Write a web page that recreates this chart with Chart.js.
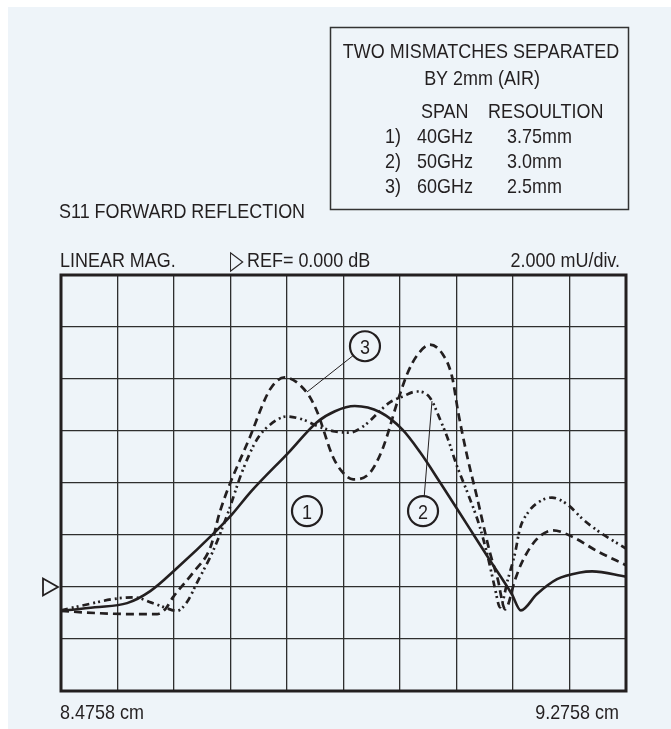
<!DOCTYPE html>
<html>
<head>
<meta charset="utf-8">
<script src="https://cdn.jsdelivr.net/npm/chart.js@4.4.1/dist/chart.umd.min.js"></script>
<style>
  html, body { margin: 0; padding: 0; background: #ffffff; overflow: hidden; }
  canvas { display: block; }
</style>
</head>
<body>
<canvas id="trace" width="671" height="729"></canvas>
<script>
// S11 forward reflection, linear magnitude (mU) against distance (cm)

// horizontal divisions (cm) and the two end labels
const xTicks = [8.4758, 8.5558, 8.6358, 8.7158, 8.7958, 8.8758, 8.9558, 9.0358, 9.1158, 9.1958, 9.2758];
const xTickLabels = ['8.4758 cm', '', '', '', '', '', '', '', '', '', '9.2758 cm'];
const yMin = 0, yMax = 16, yStep = 2;   // 2.000 mU/div, 8 divisions
const refLevel = 4;                     // reference position, mU

// trace 1: 40 GHz span  [cm, mU]
const trace1 = [
  [8.4758, 3.08], [8.5238, 3.22], [8.5694, 3.38], [8.6022, 3.84], [8.6390, 4.70],
  [8.6942, 6.12], [8.7182, 6.80], [8.7438, 7.64], [8.7990, 9.20], [8.8382, 10.34],
  [8.8638, 10.76], [8.8918, 10.96], [8.9278, 10.72], [8.9590, 10.06], [8.9838, 9.20],
  [9.0126, 8.02], [9.0518, 6.36], [9.0838, 5.00], [9.1142, 3.72], [9.1270, 3.10],
  [9.1494, 3.72], [9.1782, 4.30], [9.2110, 4.56], [9.2278, 4.60], [9.2758, 4.40]
];

// trace 2: 50 GHz span  [cm, mU]
const trace2 = [
  [8.4758, 3.10], [8.5078, 3.30], [8.5558, 3.56], [8.5798, 3.60], [8.6038, 3.40],
  [8.6238, 3.20], [8.6398, 3.08], [8.6542, 3.42], [8.6686, 4.18], [8.6910, 5.38],
  [8.7126, 6.88], [8.7318, 8.40], [8.7534, 9.68], [8.7718, 10.24], [8.7958, 10.56],
  [8.8182, 10.44], [8.8398, 10.18], [8.8638, 9.98], [8.8854, 9.94], [8.9038, 10.18],
  [8.9414, 11.10], [8.9590, 11.32], [8.9798, 11.52], [8.9982, 11.28], [9.0126, 10.44],
  [9.0238, 9.68], [9.0358, 8.70], [9.0518, 7.60], [9.0678, 6.40], [9.0798, 5.20],
  [9.0902, 3.96], [9.0974, 3.22], [9.1086, 4.30], [9.1190, 5.34], [9.1254, 6.22],
  [9.1374, 6.88], [9.1542, 7.30], [9.1710, 7.44], [9.1926, 7.18], [9.2150, 6.60],
  [9.2390, 6.10], [9.2758, 5.48]
];

// trace 3: 60 GHz span  [cm, mU]
const trace3 = [
  [8.4758, 3.08], [8.5238, 3.00], [8.5718, 2.96], [8.6118, 2.96], [8.6238, 3.16],
  [8.6342, 3.60], [8.6630, 4.56], [8.6878, 5.56], [8.7006, 6.88], [8.7438, 9.80],
  [8.7718, 11.60], [8.7926, 12.06], [8.8238, 11.48], [8.8382, 10.76], [8.8606, 9.02],
  [8.8750, 8.40], [8.8894, 8.14], [8.9134, 8.40], [8.9318, 9.36], [8.9526, 11.16],
  [8.9670, 12.26], [8.9798, 12.90], [8.9982, 13.32], [9.0166, 12.94], [9.0294, 12.10],
  [9.0382, 10.72], [9.0510, 9.02], [9.0646, 7.48], [9.0830, 5.34], [9.0942, 4.30],
  [9.1046, 3.14], [9.1190, 4.30], [9.1286, 4.96], [9.1494, 5.84], [9.1726, 6.18],
  [9.2006, 5.92], [9.2350, 5.38], [9.2758, 4.84]
];

// legend box rows
const boxTitle = ['TWO MISMATCHES SEPARATED', 'BY 2mm (AIR)'];
const boxHeader = ['SPAN', 'RESOULTION'];
const spanRows = [
  ['1)', '40GHz', '3.75mm'],
  ['2)', '50GHz', '3.0mm'],
  ['3)', '60GHz', '2.5mm']
];

// numbered callouts: circle centre and optional leader end, in data units
const callouts = [
  { label: '3', at: [8.9062, 13.26], to: [8.8241, 11.50] },
  { label: '2', at: [8.9884, 6.92], to: [9.0011, 11.15] },
  { label: '1', at: [8.8241, 6.92] }
];

const INK = '#231f20';
const GRID = '#2e2e2e';
const PANEL = '#eef4f9';

// condensed sans: use a narrow face when present, otherwise squeeze the regular one
function hasFont(name) {
  const c = document.createElement('canvas').getContext('2d');
  const probe = 'ABCDEFGHIJ mmmm 0123';
  c.font = '40px monospace';
  const a = c.measureText(probe).width;
  c.font = '40px "' + name + '", monospace';
  return c.measureText(probe).width !== a;
}
const NARROW = hasFont('Liberation Sans Narrow');
const FAMILY = NARROW ? '"Liberation Sans Narrow", sans-serif' : '"Liberation Sans", Arial, sans-serif';
const SQUEEZE = NARROW ? 1.04 : 0.855;

function text(ctx, s, x, y, align, size, squeeze) {
  ctx.save();
  ctx.translate(x, y);
  ctx.scale(squeeze || SQUEEZE, 1);
  ctx.font = (size || 21) + 'px ' + FAMILY;
  ctx.fillStyle = INK;
  ctx.textAlign = align || 'left';
  ctx.textBaseline = 'alphabetic';
  ctx.fillText(s, 0, 0);
  ctx.restore();
}

const panel = {
  id: 'panel',
  beforeDraw(chart) {
    const ctx = chart.ctx;
    ctx.save();
    ctx.fillStyle = '#ffffff';
    ctx.fillRect(0, 0, chart.width, chart.height);
    ctx.fillStyle = PANEL;
    ctx.fillRect(8, 7, chart.width - 8, chart.height - 7);
    ctx.restore();
  },
  afterDatasetsDraw(chart) {
    const ctx = chart.ctx;
    const a = chart.chartArea;
    const xs = chart.scales.x, ys = chart.scales.y;

    // outer frame of the graticule
    ctx.save();
    ctx.strokeStyle = INK;
    ctx.lineWidth = 3;
    ctx.strokeRect(a.left, a.top, a.right - a.left, a.bottom - a.top);

    // reference position marker
    const ry = ys.getPixelForValue(refLevel);
    ctx.lineWidth = 1.8;
    ctx.beginPath();
    ctx.moveTo(a.left - 18, ry - 8.5);
    ctx.lineTo(a.left - 3, ry);
    ctx.lineTo(a.left - 18, ry + 8.5);
    ctx.closePath();
    ctx.stroke();

    // numbered callouts
    const r = 15;
    callouts.forEach(c => {
      const cx = xs.getPixelForValue(c.at[0]);
      const cy = ys.getPixelForValue(c.at[1]);
      if (c.to) {
        const tx = xs.getPixelForValue(c.to[0]);
        const ty = ys.getPixelForValue(c.to[1]);
        const d = Math.hypot(tx - cx, ty - cy);
        ctx.lineWidth = 1;
        ctx.beginPath();
        ctx.moveTo(cx + (tx - cx) * r / d, cy + (ty - cy) * r / d);
        ctx.lineTo(tx, ty);
        ctx.stroke();
      }
      ctx.lineWidth = 2.2;
      ctx.beginPath();
      ctx.arc(cx, cy, r, 0, Math.PI * 2);
      ctx.stroke();
      text(ctx, c.label, cx, cy + 7.5, 'center');
    });
    ctx.restore();

    // end labels of the distance axis
    const last = xTicks.length - 1;
    text(ctx, xTickLabels[0], xs.getPixelForValue(xTicks[0]) - 1, 719, 'left');
    text(ctx, xTickLabels[last], xs.getPixelForValue(xTicks[last]) - 7, 719, 'right');

    // headings above the graticule
    text(ctx, 'S11 FORWARD REFLECTION', 59, 218);
    text(ctx, 'LINEAR MAG.', 60, 267);
    text(ctx, '\u25B7', 230, 269, 'left', 27, 0.66);
    text(ctx, 'REF= 0.000 dB', 247, 267);
    text(ctx, '2.000 mU/div.', 620, 267, 'right');

    // legend box
    ctx.save();
    ctx.strokeStyle = '#333333';
    ctx.lineWidth = 1.5;
    ctx.strokeRect(330.5, 27.5, 298, 182);
    ctx.restore();
    text(ctx, boxTitle[0], 481, 58, 'center');
    text(ctx, boxTitle[1], 482, 85, 'center');
    text(ctx, boxHeader[0], 421, 118);
    text(ctx, boxHeader[1], 488, 118);
    spanRows.forEach((row, i) => {
      const y = 143 + i * 25;
      text(ctx, row[0], 385, y);
      text(ctx, row[1], 417, y);
      text(ctx, row[2], 507, y);
    });
  }
};

const toXY = pts => pts.map(p => ({ x: p[0], y: p[1] }));

new Chart(document.getElementById('trace'), {
  type: 'line',
  data: {
    datasets: [
      { label: '3) 60GHz', data: toXY(trace3), borderDash: [8, 5], borderWidth: 2.7 },
      { label: '2) 50GHz', data: toXY(trace2), borderDash: [7, 4, 2, 3, 2, 4], borderWidth: 2.7 },
      { label: '1) 40GHz', data: toXY(trace1), borderWidth: 2.6 }
    ]
  },
  options: {
    responsive: false,
    animation: false,
    devicePixelRatio: 1,
    layout: { padding: { left: 61, right: 45, top: 275, bottom: 0 } },
    elements: {
      point: { radius: 0 },
      line: { borderColor: INK, cubicInterpolationMode: 'monotone', borderCapStyle: 'butt', fill: false }
    },
    plugins: { legend: { display: false }, tooltip: { enabled: false } },
    scales: {
      x: {
        type: 'linear',
        min: xTicks[0],
        max: xTicks[xTicks.length - 1],
        afterBuildTicks: s => { s.ticks = xTicks.map(v => ({ value: v })); },
        afterFit: s => { s.height = 38; },
        grid: { color: GRID, lineWidth: 1.3, drawTicks: false },
        border: { display: false },
        ticks: { display: false }
      },
      y: {
        min: yMin, max: yMax,
        ticks: { display: false, stepSize: yStep },
        grid: { color: GRID, lineWidth: 1.3, drawTicks: false },
        border: { display: false },
        afterFit: s => { s.width = 0; }
      }
    }
  },
  plugins: [panel]
});
</script>
</body>
</html>
